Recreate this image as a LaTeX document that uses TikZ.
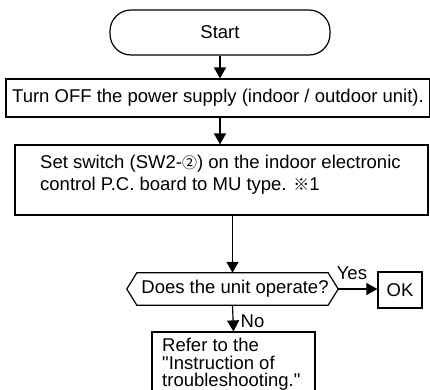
\documentclass[tikz,border=0pt]{standalone}
\usepackage{fontspec}
\setmainfont{Liberation Sans}
\newfontfamily\cjk{Noto Sans CJK JP}
\usetikzlibrary{arrows.meta,calc}
\begin{document}
\begin{tikzpicture}[x=1pt,y=-1pt,
  every node/.style={font=\fontsize{18.5}{21.7}\selectfont, inner sep=0pt},
  box/.style={draw, line width=1.2pt},
  arr/.style={line width=1.2pt, -{Triangle[length=11pt,width=12pt]}},
  lbl/.style={font=\fontsize{18.5}{18.5}\selectfont}]
\clip (0,0) rectangle (430,389);
\node[box, rounded corners=21pt, minimum width=220pt, minimum height=45pt] (start) at (220,32.5) {Start};
\node[box, minimum width=424pt, minimum height=38pt] (off) at (218,98) {Turn OFF the power supply (indoor / outdoor unit).};
\node[box, minimum width=413pt, minimum height=70pt] (set) at (221.5,180) {};
\node[anchor=west, align=left, font=\fontsize{18.5}{21.7}\selectfont] (settext) at (40,174.5) {Set switch (SW2-{\cjk\fontsize{15}{15}\selectfont ②}) on the indoor electronic\\control P.C. board to MU type. {\cjk\fontsize{16}{16}\selectfont ※}1};
\node[minimum width=211pt, minimum height=32pt] (q) at (232.5,289) {};
\node (qtext) at (235,289) {Does the unit operate?};
\draw[line width=1.2pt] (q.west) -- ([xshift=10pt]q.north west) -- ([xshift=-10pt]q.north east) -- (q.east) -- ([xshift=-10pt]q.south east) -- ([xshift=10pt]q.south west) -- cycle;
\node[box, minimum width=44pt, minimum height=36pt] (ok) at (400,290) {OK};
\node[box, minimum width=163pt, minimum height=80pt] (refer) at (233.5,372) {};
\node[anchor=north west, align=left, font=\fontsize{18.5}{17.5}\selectfont] (refertext) at (162,338) {Refer to the\\\textquotedbl Instruction of\\troubleshooting.\textquotedbl};
\coordinate (s1) at (set.south -| q.north);
\draw[arr] (start.south) -- (off.north -| start.south);
\draw[arr] (off.south -| start.south) -- (set.north -| start.south);
\draw[arr] (s1) -- (q.north);
\draw[arr] (q.east) -- (ok.west |- q.east) node[lbl, pos=0.35, above=9pt] {Yes};
\draw[arr] (q.south) -- (refer.north) node[lbl, pos=0.62, right=7pt] {No};
\end{tikzpicture}
\end{document}
